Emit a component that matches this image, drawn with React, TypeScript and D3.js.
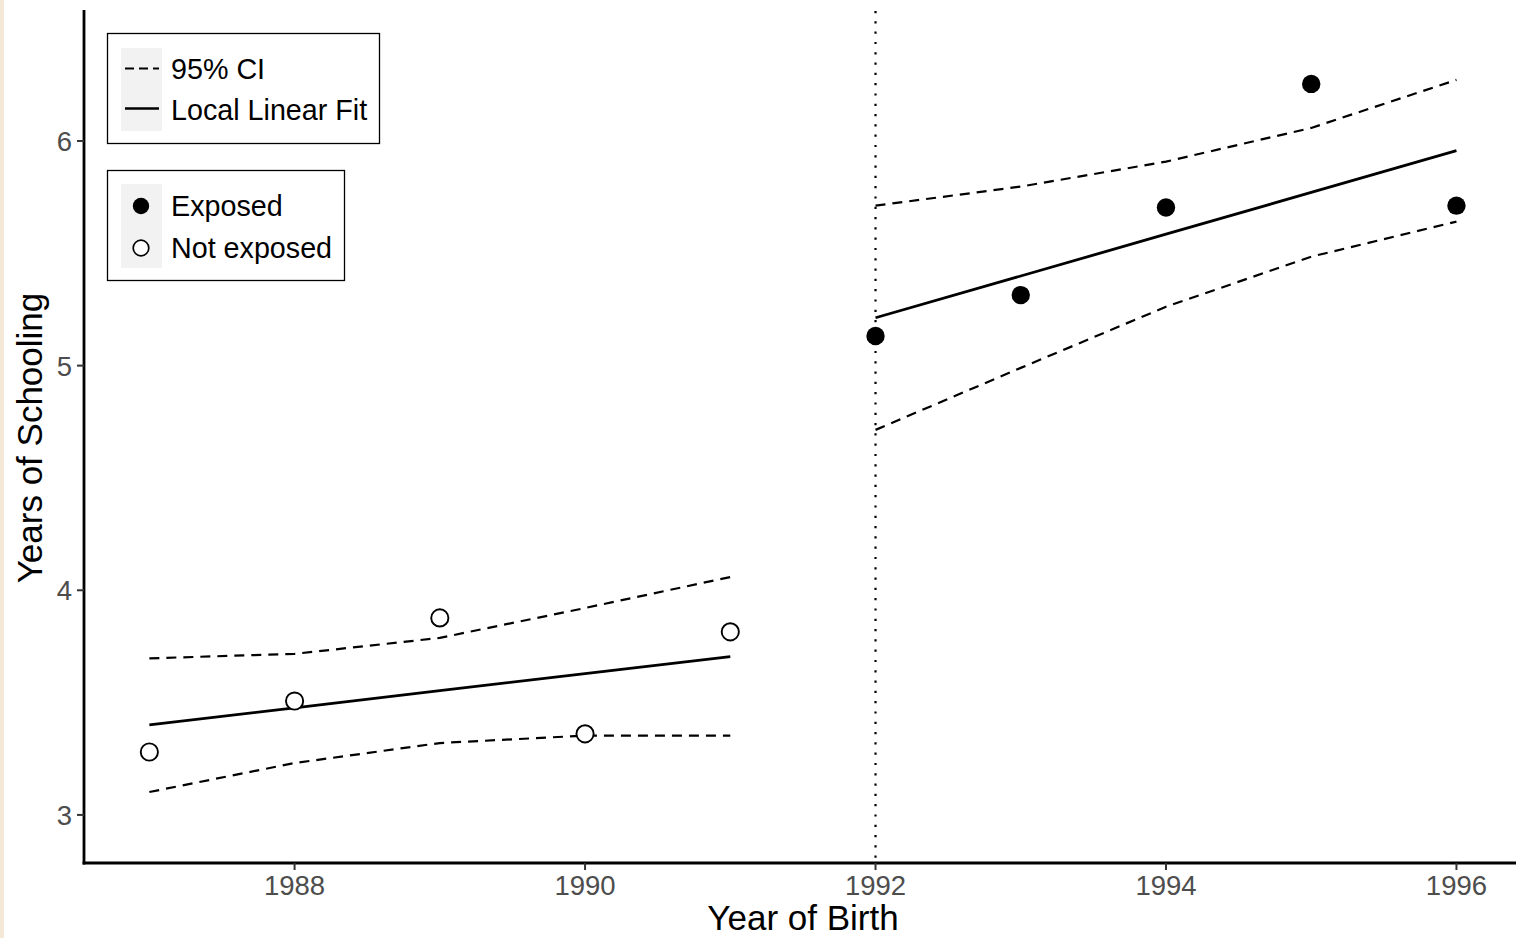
import React from "react";
import * as d3 from "d3";

// Years of birth
const yearsBefore = [1987, 1988, 1989, 1990, 1991];
const yearsAfter = [1992, 1993, 1994, 1995, 1996];

// Cohort means (points)
const notExposedValues = [3.28, 3.507, 3.877, 3.361, 3.815];
const exposedValues = [5.132, 5.314, 5.704, 6.254, 5.712];

// Local linear fit
const fitBefore = [3.401, 3.477, 3.553, 3.629, 3.705];
const fitAfter = [5.213, 5.399, 5.585, 5.771, 5.957];

// 95% CI bounds
const ciUpperBefore = [3.697, 3.717, 3.788, 3.921, 4.059];
const ciLowerBefore = [3.102, 3.231, 3.32, 3.353, 3.353];
const ciUpperAfter = [5.712, 5.797, 5.908, 6.058, 6.272];
const ciLowerAfter = [4.714, 4.99, 5.262, 5.485, 5.641];

const xTicks = [1988, 1990, 1992, 1994, 1996];
const yTicks = [3, 4, 5, 6];
const cutoffYear = 1992;

const lineLegend = ["95% CI", "Local Linear Fit"];
const pointLegend = ["Exposed", "Not exposed"];

const W = 1516;
const H = 938;
const FONT = "Liberation Sans, Arial, Helvetica, sans-serif";

export default function App() {
  const x = d3.scaleLinear().domain([1986.55, 1996.41]).range([84, 1516]);
  const y = d3.scaleLinear().domain([2.786, 6.583]).range([863, 10]);

  const line = (xs: number[], ys: number[]) =>
    d3
      .line<number>()
      .x((_, i) => x(xs[i]))
      .y((d) => y(d))(ys) || "";

  const [x0, x1] = x.range();
  const [yb, yt] = y.range();

  return (
    <svg
      width={W}
      height={H}
      style={{ position: "absolute", left: 0, top: 0, background: "#fff" }}
      fontFamily={FONT}
    >
      <rect x={0} y={0} width={W} height={H} fill="#fff" />
      <rect x={0} y={0} width={4} height={H} fill="#f3e9d6" />

      {/* cutoff line */}
      <line
        x1={x(cutoffYear)}
        x2={x(cutoffYear)}
        y1={yt + 1}
        y2={yb}
        stroke="#000"
        strokeWidth={2.2}
        strokeDasharray="2.2 8.1"
      />

      {/* CI lines */}
      {[
        [yearsBefore, ciUpperBefore],
        [yearsBefore, ciLowerBefore],
        [yearsAfter, ciUpperAfter],
        [yearsAfter, ciLowerAfter],
      ].map(([xs, ys], i) => (
        <path
          key={"ci" + i}
          d={line(xs as number[], ys as number[])}
          fill="none"
          stroke="#000"
          strokeWidth={2.2}
          strokeDasharray="10 7"
        />
      ))}

      {/* fit lines */}
      <path d={line(yearsBefore, fitBefore)} fill="none" stroke="#000" strokeWidth={2.8} />
      <path d={line(yearsAfter, fitAfter)} fill="none" stroke="#000" strokeWidth={2.8} />

      {/* points */}
      {notExposedValues.map((v, i) => (
        <circle
          key={"ne" + i}
          cx={x(yearsBefore[i])}
          cy={y(v)}
          r={8.6}
          fill="#fff"
          stroke="#000"
          strokeWidth={1.9}
        />
      ))}
      {exposedValues.map((v, i) => (
        <circle key={"ex" + i} cx={x(yearsAfter[i])} cy={y(v)} r={9.2} fill="#000" />
      ))}

      {/* axes */}
      <line x1={x0} x2={x0} y1={yt} y2={yb + 1.5} stroke="#000" strokeWidth={2.8} />
      <line x1={x0 - 1.4} x2={x1} y1={yb} y2={yb} stroke="#000" strokeWidth={2.8} />

      {yTicks.map((t) => (
        <g key={"yt" + t}>
          <line x1={x0 - 7} x2={x0} y1={y(t)} y2={y(t)} stroke="#333" strokeWidth={2} />
          <text
            x={x0 - 12}
            y={y(t)}
            dy="0.36em"
            textAnchor="end"
            fontSize={27.5}
            fill="#4d4d4d"
          >
            {t}
          </text>
        </g>
      ))}
      {xTicks.map((t) => (
        <g key={"xt" + t}>
          <line x1={x(t)} x2={x(t)} y1={yb} y2={yb + 7} stroke="#333" strokeWidth={2} />
          <text x={x(t)} y={895} textAnchor="middle" fontSize={27.5} fill="#4d4d4d">
            {t}
          </text>
        </g>
      ))}

      {/* axis titles */}
      <text x={803} y={930} textAnchor="middle" fontSize={35} fill="#000">
        Year of Birth
      </text>
      <text
        transform="translate(42,438) rotate(-90)"
        textAnchor="middle"
        fontSize={35}
        fill="#000"
      >
        Years of Schooling
      </text>

      {/* legend 1 */}
      <rect x={107.5} y={33.5} width={272} height={110} fill="#fff" stroke="#000" strokeWidth={1.3} />
      <rect x={121} y={48} width={41} height={83} fill="#f2f2f2" />
      <line x1={125} x2={159} y1={68.5} y2={68.5} stroke="#000" strokeWidth={2.2} strokeDasharray="9 5" />
      <line x1={125} x2={159} y1={108.5} y2={108.5} stroke="#000" strokeWidth={2.6} />
      <text x={171} y={79} fontSize={28.7} fill="#000">
        {lineLegend[0]}
      </text>
      <text x={171} y={120} fontSize={28.7} fill="#000">
        {lineLegend[1]}
      </text>

      {/* legend 2 */}
      <rect x={107.5} y={170.5} width={237} height={110} fill="#fff" stroke="#000" strokeWidth={1.3} />
      <rect x={121} y={184} width={41} height={84} fill="#f2f2f2" />
      <circle cx={141} cy={206} r={8.2} fill="#000" />
      <circle cx={141} cy={248} r={7.8} fill="#fff" stroke="#000" strokeWidth={1.7} />
      <text x={171} y={216} fontSize={28.7} fill="#000">
        {pointLegend[0]}
      </text>
      <text x={171} y={258} fontSize={28.7} fill="#000">
        {pointLegend[1]}
      </text>
    </svg>
  );
}
